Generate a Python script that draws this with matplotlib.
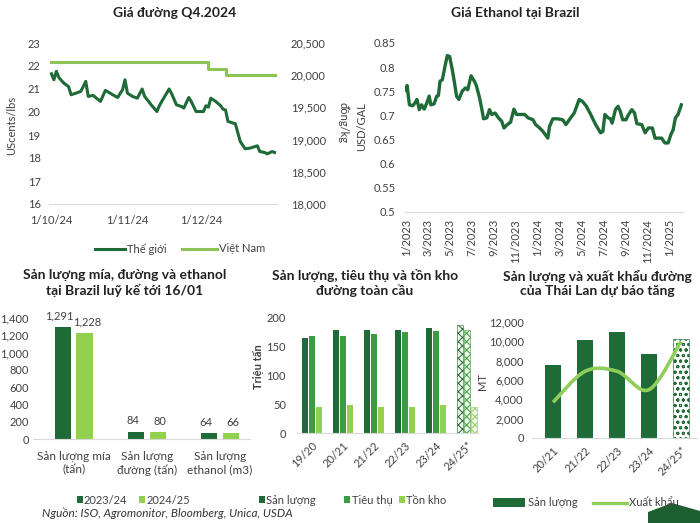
import matplotlib
matplotlib.use("Agg")
import matplotlib.pyplot as plt
from matplotlib.lines import Line2D
from matplotlib.patches import Rectangle, Polygon, PathPatch
from matplotlib.path import Path
from matplotlib.ticker import FuncFormatter

plt.rcParams["font.family"] = ["Lato", "DejaVu Sans"]
plt.rcParams["hatch.linewidth"] = 0.7

W, H = 700, 523
DARK = "#1e6b38"
MID = "#3f9b41"
LIGHT = "#92d050"
LINE_LIGHT = "#8cc455"
TXT = "#404040"
AXIS = "#d9d9d9"
FS = 8
TFS = 10

# --- Giá đường Q4.2024 (days from 1/10/24) ---
world_days = [0, 1, 2, 3, 5, 6, 7, 8, 10, 12, 14, 15, 17, 20, 22, 25, 27, 29, 30, 31,
              33, 35, 37, 38, 41, 43, 44, 45, 48, 49, 51, 53, 54, 56, 57, 59, 62, 63, 64, 65,
              67, 69, 70, 71, 72, 74, 75, 77, 79, 81, 84, 85, 87, 88, 90, 91]
world_price = [21.66, 21.4, 21.77, 21.5, 21.26, 21.18, 21.1, 20.75, 20.82, 20.9,
               21.33, 20.68, 20.72, 20.46, 20.94, 20.75, 20.63, 20.97, 21.4, 20.82,
               20.68, 20.6, 21.0, 20.68, 20.27, 20.02, 20.27, 20.46, 21.0, 20.8,
               20.31, 20.24, 20.17, 20.63, 20.46, 20.02, 20.02, 20.27, 20.21, 20.6,
               20.46, 20.27, 20.12, 20.09, 19.59, 19.52, 19.49, 18.72, 18.4, 18.43,
               18.53, 18.28, 18.24, 18.18, 18.28, 18.24]
vn_days = [0, 64, 71, 91]
vn_price = [20200, 20100, 20000, 20000]
q4_tick_days = [0, 31, 61]
q4_tick_labels = ["1/10/24", "1/11/24", "1/12/24"]

# --- Giá Ethanol tại Brazil (months from 1/2023) ---
eth_month = [0, 0.09, 0.3, 0.6, 0.81, 0.99, 1.2, 1.41, 1.65, 1.89,
             2.1, 2.25, 2.55, 2.79, 2.94, 3.09, 3.3, 3.54, 3.75, 3.96,
             4.2, 4.41, 4.59, 4.8, 5.1, 5.4, 5.61, 5.91, 6.21, 6.39,
             6.69, 6.9, 7.05, 7.35, 7.59, 7.8, 8.1, 8.4, 8.7, 8.91,
             9.21, 9.51, 9.81, 10.05, 10.5, 10.8, 11.1, 11.55, 11.79, 12.15,
             12.45, 12.9, 13.05, 13.35, 13.8, 14.25, 14.55, 14.85, 15.3, 15.75,
             16.05, 16.41, 16.8, 17.25, 17.7, 17.91, 18.09, 18.39, 18.6, 18.75,
             19.05, 19.29, 19.5, 19.71, 20.01, 20.25, 20.55, 20.79, 21.0, 21.45,
             21.75, 22.05, 22.41, 22.65, 23.25, 23.55, 23.85, 24.09, 24.3, 24.51,
             24.75, 25.05]
eth_price = [0.752, 0.762, 0.722, 0.720, 0.726, 0.733, 0.712, 0.722, 0.713, 0.726,
             0.740, 0.722, 0.724, 0.740, 0.741, 0.771, 0.774, 0.802, 0.824, 0.822,
             0.795, 0.767, 0.740, 0.733, 0.750, 0.757, 0.753, 0.782, 0.771, 0.762,
             0.736, 0.712, 0.693, 0.695, 0.712, 0.702, 0.705, 0.695, 0.688, 0.674,
             0.681, 0.686, 0.713, 0.702, 0.702, 0.702, 0.695, 0.691, 0.681, 0.674,
             0.667, 0.653, 0.677, 0.693, 0.693, 0.691, 0.681, 0.691, 0.705, 0.733,
             0.729, 0.719, 0.702, 0.681, 0.664, 0.667, 0.702, 0.695, 0.693, 0.684,
             0.712, 0.719, 0.708, 0.691, 0.691, 0.702, 0.712, 0.705, 0.683, 0.681,
             0.664, 0.674, 0.674, 0.653, 0.653, 0.643, 0.643, 0.660, 0.670, 0.695,
             0.702, 0.722]
eth_tick_months = [0, 2, 4, 6, 8, 10, 12, 14, 16, 18, 20, 22, 24]
eth_tick_labels = ["1/2023", "3/2023", "5/2023", "7/2023", "9/2023", "11/2023", "1/2024",
                   "3/2024", "5/2024", "7/2024", "9/2024", "11/2024", "1/2025"]

# --- Brazil ---
br_cats = ["Sản lượng mía\n(tấn)", "Sản lượng\nđường (tấn)", "Sản lượng\nethanol (m3)"]
br_2324 = [1291, 84, 64]
br_2425 = [1228, 80, 66]

# --- Global sugar ---
gl_cats = ["19/20", "20/21", "21/22", "22/23", "23/24", "24/25*"]
gl_prod = [165, 180, 180, 180, 183, 187]
gl_cons = [169, 169, 172, 175, 178, 180]
gl_stock = [46, 49, 46, 45, 48, 46]

# --- Thailand ---
th_cats = ["20/21", "21/22", "22/23", "23/24", "24/25*"]
th_prod = [7600, 10100, 11000, 8700, 10200]
th_export = [3700, 6900, 6900, 5000, 10000]

fig = plt.figure(figsize=(7, 5.23), dpi=100)
fig.patch.set_facecolor("white")


def px_axes(x0, y0, x1, y1):
    return fig.add_axes([x0 / W, 1 - y1 / H, (x1 - x0) / W, (y1 - y0) / H])


def ftext(x, y, s, **kw):
    kw.setdefault("color", TXT)
    fig.text(x / W, 1 - y / H, s, **kw)


def fline(x0, x1, y, color, lw=2.2):
    fig.add_artist(Line2D([x0 / W, x1 / W], [1 - y / H] * 2, color=color, lw=lw,
                          transform=fig.transFigure))


def fbox(x0, y0, x1, y1, color):
    fig.add_artist(Rectangle((x0 / W, 1 - y1 / H), (x1 - x0) / W, (y1 - y0) / H,
                             color=color, transform=fig.transFigure, lw=0))


def ylabel_at(ax, text, x, y, rotation=90, **kw):
    # place an axis label at a pixel position of the figure
    ftext(x, y, text, rotation=rotation, ha="center", va="center", fontsize=FS, **kw)


def style(ax, fs=FS):
    for s in ["top", "right", "left"]:
        ax.spines[s].set_visible(False)
    ax.spines["bottom"].set_color(AXIS)
    ax.tick_params(length=0, labelsize=fs, colors=TXT, pad=3)
    ax.set_facecolor("none")


comma = FuncFormatter(lambda v, p: f"{v:,.0f}")

# Panel 1
ax1 = px_axes(49, 43, 277, 204)
style(ax1)
ax1.plot(world_days, world_price, color=DARK, lw=2.2)
ax1.set_ylim(16, 23)
ax1.set_yticks(range(16, 24))
ax1.set_xlim(-1, 92)
ax1.set_xticks(q4_tick_days, q4_tick_labels)
ax1.tick_params(axis="x", pad=8)
ax1.tick_params(axis="y", pad=6)
ax1b = ax1.twinx()
style(ax1b)
ax1b.spines["bottom"].set_visible(False)
ax1b.plot(vn_days, vn_price, color=LINE_LIGHT, lw=2.2, drawstyle="steps-post")
ax1b.set_ylim(18000, 20500)
ax1b.set_yticks(range(18000, 20501, 500))
ax1b.yaxis.set_major_formatter(comma)
ax1b.tick_params(pad=10)
ylabel_at(ax1, "UScents/lbs", 12, 125)
ylabel_at(ax1b, "đồng/kg", 343, 123, rotation=270)
ftext(175, 13, "Giá đường Q4.2024", ha="center", va="center", fontsize=TFS,
      fontweight="bold", color="#222222")
fline(95, 125, 249, DARK)
ftext(127, 249, "Thế giới", va="center", fontsize=FS)
fline(182, 217, 249, LINE_LIGHT)
ftext(219, 249, "Việt Nam", va="center", fontsize=FS)

# Panel 2
ax2 = px_axes(405, 43, 683, 212)
style(ax2)
ax2.plot(eth_month, eth_price, color=DARK, lw=2.4)
ax2.set_ylim(0.5, 0.85)
ax2.set_yticks([0.5, 0.55, 0.6, 0.65, 0.7, 0.75, 0.8, 0.85],
               ["0.5", "0.55", "0.6", "0.65", "0.7", "0.75", "0.8", "0.85"])
ax2.set_xlim(-0.1, 25.2)
ax2.set_xticks(eth_tick_months, eth_tick_labels, rotation=90)
ax2.tick_params(axis="y", pad=7)
ax2.tick_params(axis="x", pad=5)
ylabel_at(ax2, "USD/GAL", 362, 127)
ftext(515, 13, "Giá Ethanol tại Brazil", ha="center", va="center", fontsize=TFS,
      fontweight="bold", color="#222222")

# Panel 3
ax3 = px_axes(33, 318, 250, 439)
style(ax3)
xs = list(range(len(br_cats)))
off, bw = 0.145, 0.22
ax3.bar([x - off for x in xs], br_2324, width=bw, color=DARK)
ax3.bar([x + off for x in xs], br_2425, width=bw, color=LIGHT)
for x, a, b in zip(xs, br_2324, br_2425):
    ax3.annotate(f"{a:,}", (x - off - 0.05, a), xytext=(0, 4), textcoords="offset points",
                 ha="center", va="bottom", fontsize=FS, color=TXT)
    ax3.annotate(f"{b:,}", (x + off + 0.03, b), xytext=(0, 4), textcoords="offset points",
                 ha="center", va="bottom", fontsize=FS, color=TXT)
ax3.set_ylim(0, 1400)
ax3.set_yticks(range(0, 1401, 200))
ax3.yaxis.set_major_formatter(comma)
ax3.set_xlim(-0.56, 2.41)
ax3.set_xticks(xs, br_cats, fontsize=8.5)
ax3.tick_params(axis="x", pad=9)
ftext(125, 283, "Sản lượng mía, đường và ethanol\ntại Brazil luỹ kế tới 16/01", ha="center",
      va="center", fontsize=TFS, fontweight="bold", color="#222222", linespacing=1.2)
fbox(77, 496, 83, 503, DARK)
ftext(84, 500, "2023/24", va="center", fontsize=FS)
fbox(139, 496, 145, 503, LIGHT)
ftext(147, 500, "2024/25", va="center", fontsize=FS)
ftext(42, 513, "Nguồn: ISO, Agromonitor, Bloomberg, Unica, USDA", va="center",
      fontsize=8.5, style="italic", color="#333333")

# Panel 4
ax4 = px_axes(297, 318, 478, 433)
style(ax4)
gx = list(range(len(gl_cats)))
o4, w4 = 0.23, 0.19
for i, x in enumerate(gx):
    last = i == len(gx) - 1
    for dx, val, col in [(-o4, gl_prod[i], DARK), (0, gl_cons[i], MID), (o4, gl_stock[i], LIGHT)]:
        if last:
            ax4.bar(x + dx, val, width=w4, facecolor="#eef7e8", edgecolor=col, hatch="xxxx", lw=0.4)
        else:
            ax4.bar(x + dx, val, width=w4, color=col)
ax4.set_ylim(0, 200)
ax4.set_yticks(range(0, 201, 50))
ax4.set_xlim(-0.48, 5.35)
ax4.set_xticks(gx, gl_cats, rotation=45, ha="right", rotation_mode="anchor")
ax4.tick_params(axis="x", pad=5)
ax4.tick_params(axis="y", pad=8)
ylabel_at(ax4, "Triệu tấn", 258, 367, fontweight="bold", )
ftext(365, 283, "Sản lượng, tiêu thụ và tồn kho\nđường toàn cầu", ha="center",
      va="center", fontsize=TFS, fontweight="bold", color="#222222", linespacing=1.2)
fbox(259, 496, 265, 503, DARK)
ftext(266, 500, "Sản lượng", va="center", fontsize=FS)
fbox(344, 496, 350, 503, MID)
ftext(352, 500, "Tiêu thụ", va="center", fontsize=FS)
fbox(399, 496, 405, 503, LIGHT)
ftext(406, 500, "Tồn kho", va="center", fontsize=FS)

# Panel 5
ax5 = px_axes(532, 322, 697, 438)
style(ax5)
tx = list(range(len(th_cats)))
for i, x in enumerate(tx):
    if i == len(tx) - 1:
        ax5.bar(x, th_prod[i], width=0.5, facecolor="white", edgecolor=DARK, hatch="ooo", lw=0.4)
    else:
        ax5.bar(x, th_prod[i], width=0.5, color=DARK)
# smooth line through the export points (cubic Bezier, Catmull-Rom style)
pts = list(zip(tx, th_export))
verts, codes = [pts[0]], [Path.MOVETO]
for i in range(len(pts) - 1):
    p0 = pts[max(i - 1, 0)]
    p1, p2 = pts[i], pts[i + 1]
    p3 = pts[min(i + 2, len(pts) - 1)]
    c1 = (p1[0] + (p2[0] - p0[0]) / 6, p1[1] + (p2[1] - p0[1]) / 6)
    c2 = (p2[0] - (p3[0] - p1[0]) / 6, p2[1] - (p3[1] - p1[1]) / 6)
    verts += [c1, c2, p2]
    codes += [Path.CURVE4] * 3
ax5.add_patch(PathPatch(Path(verts, codes), facecolor="none", edgecolor="#8fce5a", lw=2.6))
ax5.set_ylim(0, 12000)
ax5.set_yticks(range(0, 12001, 2000))
ax5.yaxis.set_major_formatter(comma)
ax5.set_xlim(-0.66, 4.5)
ax5.set_xticks(tx, th_cats, rotation=45, ha="right", rotation_mode="anchor")
ax5.tick_params(axis="x", pad=5)
ax5.tick_params(axis="y", pad=6)
ylabel_at(ax5, "MT", 483, 382)
ftext(597, 283, "Sản lượng và xuất khẩu đường\ncủa Thái Lan dự báo tăng", ha="center",
      va="center", fontsize=TFS, fontweight="bold", color="#222222", linespacing=1.2)
fbox(493, 498, 525, 507, DARK)
ftext(528, 503, "Sản lượng", va="center", fontsize=FS)
fline(593, 627, 503, "#8fce5a", lw=2.4)
ftext(629, 503, "Xuất khẩu", va="center", fontsize=FS)

# corner logo shape
fig.add_artist(Polygon([(648 / W, 0), (648 / W, 1 - 512 / H), (672 / W, 1 - 503 / H),
                        (700 / W, 1 - 511 / H), (700 / W, 0)], closed=True,
                       color="#1e5f32", transform=fig.transFigure, lw=0))

fig.savefig("out.png", dpi=100, facecolor="white")
